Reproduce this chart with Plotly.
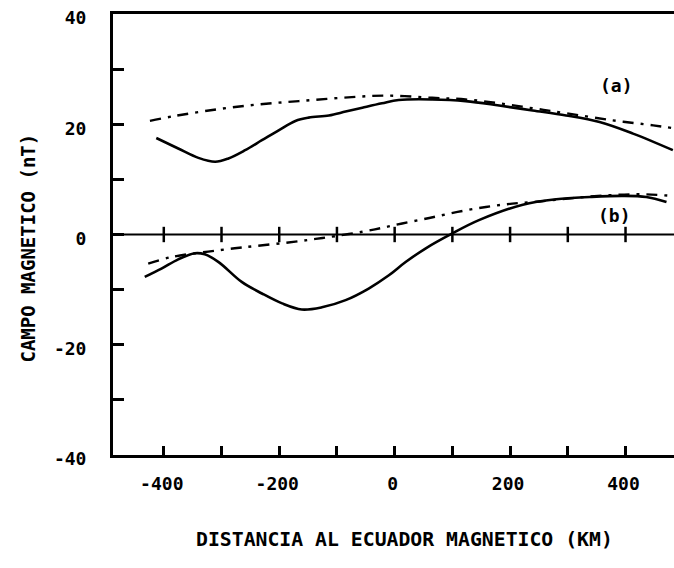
import plotly.graph_objects as go

# Curve (a)
a_solid_x = [-413, -375, -340, -311, -288, -259, -230, -201, -172, -149, -114, -85, -56, -22, 7, 65, 123, 181, 239, 297, 355, 413, 482]
a_solid_y = [17.5, 15.6, 13.9, 13.2, 13.8, 15.3, 17.1, 18.9, 20.6, 21.2, 21.6, 22.3, 23.0, 23.8, 24.4, 24.5, 24.2, 23.4, 22.5, 21.6, 20.4, 18.3, 15.3]
a_dash_x = [-424, -381, -308, -236, -166, -91, -16, 65, 123, 181, 239, 297, 378, 448, 482]
a_dash_y = [20.6, 21.5, 22.7, 23.6, 24.2, 24.8, 25.2, 24.8, 24.5, 23.8, 22.9, 22.0, 20.7, 19.8, 19.3]

# Curve (b)
b_solid_x = [-433, -404, -375, -346, -329, -305, -265, -230, -195, -161, -126, -85, -45, -10, 19, 54, 100, 146, 222, 280, 338, 395, 436, 471]
b_solid_y = [-7.7, -6.2, -4.5, -3.4, -3.6, -5.0, -8.6, -10.7, -12.5, -13.6, -13.2, -11.9, -9.8, -7.4, -5.0, -2.5, 0.2, 2.6, 5.4, 6.4, 6.8, 7.0, 6.8, 5.9]
b_dash_x = [-427, -387, -323, -277, -242, -172, -137, -103, -56, -22, 13, 60, 109, 158, 204, 251, 309, 367, 424, 482]
b_dash_y = [-5.3, -4.1, -3.1, -2.5, -2.1, -1.3, -0.8, -0.3, 0.5, 1.2, 2.0, 3.0, 4.1, 5.0, 5.6, 6.0, 6.6, 7.1, 7.3, 7.0]

x_ticks = [-400, -300, -200, -100, 0, 100, 200, 300, 400]
x_ticktext = ["-400", "", "-200", "", "0", "", "200", "", "400"]
y_ticks = [-40, -30, -20, -10, 0, 10, 20, 30, 40]
y_ticktext = ["-40", "", "-20", "", "0", "", "20", "", "40"]

FONT = "DejaVu Sans Mono"
DASHDOT = "11px,7px,3px,7px"

fig = go.Figure()
# zero line with crossing ticks
fig.add_trace(go.Scatter(x=[-490, 484], y=[0, 0], mode="lines",
                         line=dict(color="black", width=2), hoverinfo="skip"))
fig.add_trace(go.Scatter(x=x_ticks, y=[0] * len(x_ticks), mode="markers",
                         marker=dict(symbol="line-ns", size=11, line=dict(color="black", width=2.5)),
                         hoverinfo="skip"))
fig.add_trace(go.Scatter(x=a_solid_x, y=a_solid_y, mode="lines", line_shape="spline",
                         line=dict(color="black", width=2.6)))
fig.add_trace(go.Scatter(x=a_dash_x, y=a_dash_y, mode="lines", line_shape="spline",
                         line=dict(color="black", width=2.4, dash=DASHDOT)))
fig.add_trace(go.Scatter(x=b_solid_x, y=b_solid_y, mode="lines", line_shape="spline",
                         line=dict(color="black", width=2.6)))
fig.add_trace(go.Scatter(x=b_dash_x, y=b_dash_y, mode="lines", line_shape="spline",
                         line=dict(color="black", width=2.4, dash=DASHDOT)))

bold = dict(family=FONT, color="black", weight="bold")
fig.add_annotation(x=384, y=27, text="(a)", showarrow=False, font=dict(size=18, **bold))
fig.add_annotation(x=381, y=3.4, text="(b)", showarrow=False, font=dict(size=18, **bold))
fig.add_annotation(xref="paper", yref="paper", x=0.52, y=-0.222,
                   text="DISTANCIA AL ECUADOR MAGNETICO (KM)", showarrow=False,
                   font=dict(size=19.8, **bold))
fig.add_annotation(xref="paper", yref="paper", x=-0.175, y=0.47, textangle=-90,
                   text="CAMPO MAGNETICO (nT)", showarrow=False,
                   font=dict(size=19, **bold))

fig.update_layout(
    width=674, height=568,
    margin=dict(l=113, r=0, t=14, b=113),
    paper_bgcolor="white", plot_bgcolor="white",
    showlegend=False,
    xaxis=dict(range=[-488, 484], tickvals=x_ticks, ticktext=x_ticktext,
               ticks="inside", ticklen=9, tickwidth=2.5, tickcolor="black",
               showline=True, linewidth=3, linecolor="black", mirror=True,
               showgrid=False, zeroline=False, ticklabelstandoff=10,
               ticklabelshift=-2,
               ticklabeloverflow="allow", automargin=False,
               tickfont=dict(size=18, **bold)),
    yaxis=dict(range=[-40, 40], tickvals=y_ticks, ticktext=y_ticktext,
               ticks="inside", ticklen=11, tickwidth=2.5, tickcolor="black",
               showline=True, linewidth=3, linecolor="black", mirror=False,
               showgrid=False, zeroline=False, ticklabelstandoff=20,
               ticklabelshift=4,
               ticklabeloverflow="allow", automargin=False,
               tickfont=dict(size=18, **bold)),
)

fig.write_html("out.html", config={"displayModeBar": False},
               post_script="document.body.style.margin='0';document.body.style.overflow='hidden';")
